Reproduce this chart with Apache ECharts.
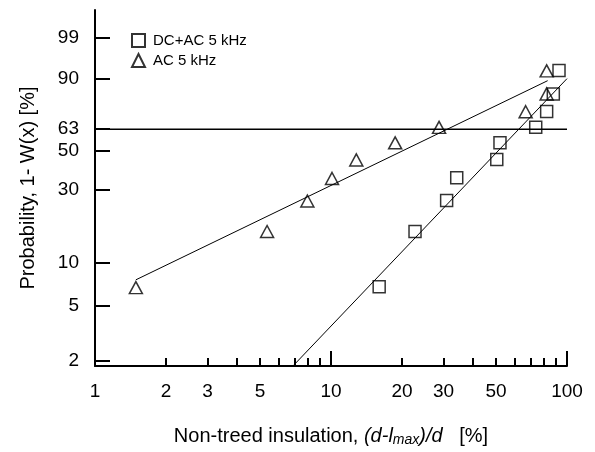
<!DOCTYPE html>
<html>
<head>
<meta charset="utf-8">
<script src="https://cdn.jsdelivr.net/npm/echarts@6/dist/echarts.min.js"></script>
<style>html,body{margin:0;padding:0;background:#fff;}#c{width:595px;height:452px;}</style>
</head>
<body>
<div id="c"></div>
<script>
// ---- data (x in %, probability in %) ----
const dcacX = [16.0, 22.7, 30.9, 34.1, 50.4, 52.0, 73.7, 82.0, 87.5, 92.5];
const dcacP = [6.8, 16.3, 25.9, 35.5, 44.9, 54.6, 64.1, 73.8, 83.4, 93.0];
const acX   = [1.49, 5.36, 7.94, 10.1, 12.8, 18.7, 28.7, 66.8, 82.0, 82.0];
const acP   = [6.7, 16.3, 25.7, 35.2, 44.7, 54.6, 64.1, 73.6, 83.4, 92.9];
// fitted lines (endpoints)
const dcacFitX = [6.92, 100];
const dcacFitP = [1.85, 90.2];
const acFitX = [1.49, 82.8];
const acFitP = [7.6, 89.4];
const refP = 63;
const refX = [1, 100];
// tick labels
const xTickLabels = [1, 2, 3, 5, 10, 20, 30, 50, 100];
const xMinorTicks = [2, 3, 4, 5, 6, 7, 8, 9, 20, 30, 40, 50, 60, 70, 80, 90];
const xMajorTicks = [1, 10, 100];
const yTickLabels = [2, 5, 10, 30, 50, 63, 90, 99];
const seriesNames = ['DC+AC 5 kHz', 'AC 5 kHz'];

// ---- scales ----
const lx = v => Math.log10(v);
const wb = p => Math.log(-Math.log(1 - p / 100));
const pts = (xs, ps) => xs.map((x, i) => [lx(x), wb(ps[i])]);

const FONT = 'Liberation Sans, Arial, sans-serif';
const yTickVals = yTickLabels.map(wb);

const chart = echarts.init(document.getElementById('c'), null, {renderer: 'canvas'});
chart.setOption({
  animation: false,
  backgroundColor: '#fff',
  grid: {left: 95, right: 28, top: 10, bottom: 85, containLabel: false},
  legend: {
    orient: 'vertical', left: 131, top: 33, padding: 0, itemWidth: 13, itemHeight: 13, itemGap: 5,
    data: seriesNames,
    textStyle: {fontFamily: FONT, fontSize: 15, color: '#000', padding: [0, 0, 0, 3]}
  },
  xAxis: [{
    type: 'value', min: 0, max: 2,
    axisLine: {show: true, onZero: false, lineStyle: {color: '#000', width: 2}},
    axisTick: {show: true, inside: true, length: 8, lineStyle: {color: '#000', width: 2},
               customValues: xMinorTicks.map(lx)},
    axisLabel: {customValues: xTickLabels.map(lx), margin: 16, color: '#000', fontFamily: FONT, fontSize: 19,
                formatter: v => { const r = Math.round(Math.pow(10, v)); return String(r); }},
    splitLine: {show: false},
    name: '{n|Non-treed insulation, }{i|(d-l}{s|max}{i|)/d}{n|   [%]}',
    nameLocation: 'middle', nameGap: 59,
    nameTextStyle: {rich: {
      n: {fontFamily: FONT, fontSize: 20, color: '#000'},
      i: {fontFamily: FONT, fontSize: 20, fontStyle: 'italic', color: '#000'},
      s: {fontFamily: FONT, fontSize: 14, fontStyle: 'italic', color: '#000', padding: [8, 0, 0, 0]}
    }}
  }, {
    type: 'value', min: 0, max: 2, position: 'bottom', gridIndex: 0,
    axisLine: {show: false, onZero: false},
    axisTick: {show: true, inside: true, length: 15, lineStyle: {color: '#000', width: 2},
               customValues: xMajorTicks.map(lx)},
    axisLabel: {show: false}, splitLine: {show: false}
  }],
  yAxis: {
    type: 'value', min: -3.986, max: 1.996,
    axisLine: {show: true, onZero: false, lineStyle: {color: '#000', width: 2}},
    axisTick: {show: true, inside: true, length: 15, lineStyle: {color: '#000', width: 2},
               customValues: yTickVals},
    axisLabel: {customValues: yTickVals, margin: 16, color: '#000', fontFamily: FONT, fontSize: 19,
                formatter: v => { let best = 0, d = 1e9; yTickVals.forEach((t, i) => { if (Math.abs(t - v) < d) { d = Math.abs(t - v); best = i; } }); return String(yTickLabels[best]); }},
    splitLine: {show: false},
    name: 'Probability, 1- W(x) [%]', nameLocation: 'middle', nameGap: 57, nameRotate: 90,
    nameTextStyle: {fontFamily: FONT, fontSize: 20, color: '#000'}
  },
  series: [
    {name: seriesNames[0], type: 'scatter', symbol: 'rect', symbolSize: 12,
     itemStyle: {color: 'rgba(0,0,0,0)', borderColor: '#000', borderWidth: 1.5},
     data: pts(dcacX, dcacP), z: 5},
    {name: seriesNames[1], type: 'scatter', symbol: 'triangle', symbolSize: [13, 12],
     itemStyle: {color: 'rgba(0,0,0,0)', borderColor: '#000', borderWidth: 1.5},
     data: pts(acX, acP), z: 5},
    {type: 'line', data: pts(dcacFitX, dcacFitP), showSymbol: false, symbol: 'none',
     lineStyle: {color: '#000', width: 1}, silent: true},
    {type: 'line', data: pts(acFitX, acFitP), showSymbol: false, symbol: 'none',
     lineStyle: {color: '#000', width: 1}, silent: true},
    {type: 'line', data: pts(refX, [refP, refP]), showSymbol: false, symbol: 'none',
     lineStyle: {color: '#000', width: 1.5}, silent: true}
  ]
});
</script>
</body>
</html>
